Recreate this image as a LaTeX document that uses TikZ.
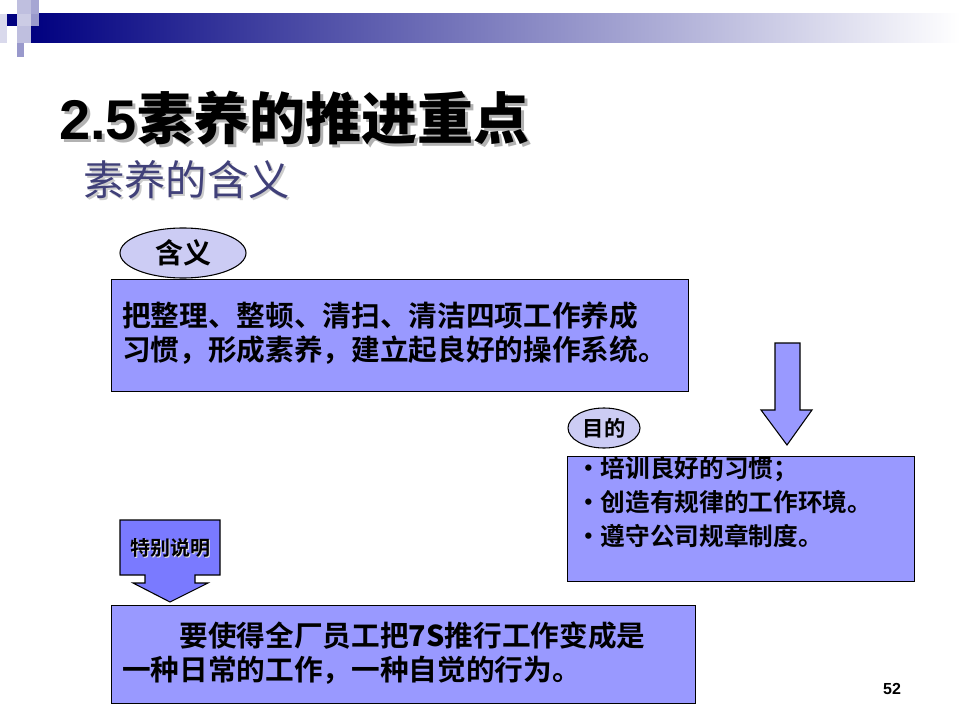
\documentclass[tikz,border=0pt]{standalone}
\usepackage{fontspec}
\setmainfont{Liberation Sans}
\newfontfamily\cjk{Noto Sans CJK SC}
\newfontfamily\cjkb{Noto Sans CJK SC Bold}
\usetikzlibrary{shapes.geometric}
\definecolor{boxf}{HTML}{9999FF}
\definecolor{ellf}{HTML}{CCCCF4}
\definecolor{navy}{HTML}{000080}
\tikzset{
  box/.style={draw=black, fill=boxf, line width=0.8pt, anchor=north west, inner sep=0pt},
  oval/.style={ellipse, draw=black, fill=ellf, line width=0.8pt, inner sep=0pt},
  txt/.style={font=\cjkb\fontsize{21.5}{25.5}\selectfont, align=left, anchor=north west, inner sep=0pt},
  arr/.style={draw=black, fill=boxf, line width=0.8pt}
}
\begin{document}
\begin{tikzpicture}[x=0.75pt,y=-0.75pt]
\useasboundingbox (0,0) rectangle (960,720);
% top decoration
\shade[left color=navy, right color=white] (30,14) rectangle (960,43);
\fill[navy] (7,14) rectangle (17,26);
\fill[navy!25] (17,0) rectangle (31,14);
\fill[navy!35] (31,0) rectangle (39,14);
\fill[navy!20] (17,14) rectangle (31,26);
\fill[navy!40] (31,14) rectangle (39,26);
\fill[navy!25] (17,26) rectangle (31,43);
\fill[navy!15] (0,14) rectangle (7,43);
\fill[navy!40] (17,43) rectangle (24,57);
% title
\node[anchor=base west, inner sep=0pt, text=gray!60] (tsh) at (62,143) {\bfseries\fontsize{42}{46}\selectfont 2.5{\cjkb 素养的推进重点}};
\node[anchor=base west, inner sep=0pt] (title) at (59,140) {\bfseries\fontsize{42}{46}\selectfont 2.5{\cjkb 素养的推进重点}};
\node[anchor=base west, inner sep=0pt, text=gray!40] (ssh) at (85,198) {\cjk\fontsize{31}{34}\selectfont 素养的含义};
\node[anchor=base west, inner sep=0pt, text=black!55!blue!50!gray] (sub) at (83,196) {\cjk\fontsize{31}{34}\selectfont 素养的含义};
% box 1
\node[box, minimum width=577*0.75pt, minimum height=112*0.75pt] (b1) at (111,279) {};
\node[txt] (t1) at (122,302) {把整理、整顿、清扫、清洁四项工作养成\\习惯，形成素养，建立起良好的操作系统。};
\node[oval, minimum width=126*0.75pt, minimum height=50*0.75pt, font=\cjkb\fontsize{21}{24}\selectfont] (e1) at (183,253) {含义};
% down arrow
\draw[arr] (775,343) -- (800,343) -- (800,410) -- (812,410) -- (787,445) -- (761,410) -- (775,410) -- cycle;
% box 2
\node[oval, minimum width=72*0.75pt, minimum height=40*0.75pt, font=\cjkb\fontsize{16}{18}\selectfont] (e2) at (604,428) {目的};
\node[box, minimum width=347*0.75pt, minimum height=125*0.75pt] (b2) at (567,456) {};
\node[txt, font=\cjkb\fontsize{18.5}{25.5}\selectfont] (t2) at (576,456) {\textbullet{}培训良好的习惯；\\\textbullet{}创造有规律的工作环境。\\\textbullet{}遵守公司规章制度。};
% callout
\draw[arr, fill=boxf!80!blue] (120,520) -- (220,520) -- (220,575) -- (195,575) -- (195,583) -- (208,583) -- (170,602) -- (133,583) -- (145,583) -- (145,575) -- (120,575) -- cycle;
\node[font=\cjkb\fontsize{15}{17}\selectfont, text=white!80!gray, inner sep=0pt] (cs) at (171,549) {特别说明};
\node[font=\cjkb\fontsize{15}{17}\selectfont, inner sep=0pt] (c) at (170,548) {特别说明};
% box 3
\node[box, minimum width=584*0.75pt, minimum height=98*0.75pt] (b3) at (111,605) {};
\node[txt] (t3) at (122,622) {\hspace{2em}要使得全厂员工把{\bfseries 7S}推行工作变成是\\一种日常的工作，一种自觉的行为。};
\node[anchor=center, inner sep=0pt, font=\bfseries\fontsize{12}{14}\selectfont] (pg) at (892,689) {52};
\end{tikzpicture}
\end{document}
